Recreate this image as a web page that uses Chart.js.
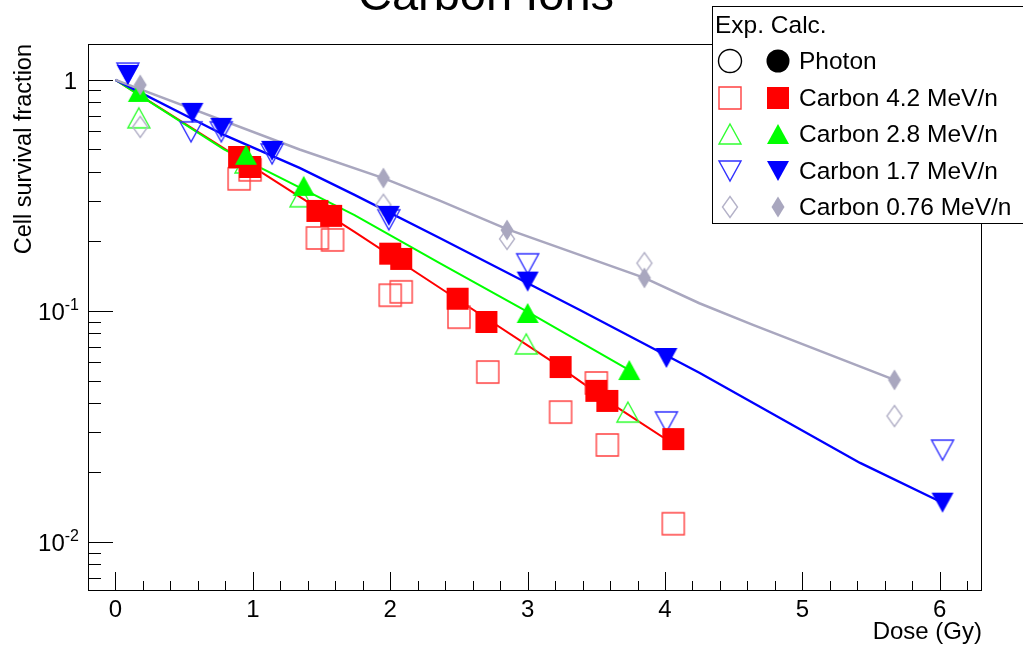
<!DOCTYPE html>
<html>
<head>
<meta charset="utf-8">
<title>Carbon Ions</title>
<script src="https://cdn.jsdelivr.net/npm/chart.js@4.4.1/dist/chart.umd.min.js"></script>
<style>
  html, body { margin: 0; padding: 0; background: #fff; }
  #chart { display: block; }
</style>
</head>
<body>
<canvas id="chart" width="1023" height="648"></canvas>
<script>
// axis ranges and tick labels
const doseRange = [-0.2, 6.3];
const survRange = [0.0062, 1.43];
const doseTicks = [0, 1, 2, 3, 4, 5, 6];
const doseTickLabels = ['0', '1', '2', '3', '4', '5', '6'];
const survTicks = [1, 0.1, 0.01];
const survTickBase = ['1', '10', '10'];
const survTickExp = ['', '-1', '-2'];

const legendNames = ['Photon', 'Carbon 4.2 MeV/n', 'Carbon 2.8 MeV/n', 'Carbon 1.7 MeV/n', 'Carbon 0.76 MeV/n'];

// Carbon 4.2 MeV/n
const c42ExpDose = [0.90, 0.98, 1.47, 1.58, 2.00, 2.08, 2.50, 2.71, 3.24, 3.50, 3.58, 4.06];
const c42ExpSurv = [0.373, 0.408, 0.207, 0.203, 0.117, 0.121, 0.094, 0.0544, 0.0365, 0.0488, 0.0263, 0.0120];
const c42CalcDose = [0.90, 0.98, 1.47, 1.57, 2.00, 2.08, 2.49, 2.70, 3.24, 3.50, 3.58, 4.06];
const c42CalcSurv = [0.464, 0.420, 0.271, 0.258, 0.177, 0.168, 0.113, 0.0896, 0.0572, 0.0451, 0.0408, 0.0279];
const c42LineDose = [0, 0.83, 1.74, 2.36, 3.16, 3.66, 3.98, 4.06];
const c42LineSurv = [1, 0.488, 0.22, 0.126, 0.0614, 0.038, 0.0285, 0.0279];

// Carbon 2.8 MeV/n
const c28ExpDose = [0.17, 0.95, 1.35, 2.99, 3.73];
const c28ExpSurv = [0.685, 0.437, 0.312, 0.072, 0.0365];
const c28CalcDose = [0.17, 0.95, 1.37, 3.00, 3.74];
const c28CalcSurv = [0.887, 0.474, 0.348, 0.098, 0.0555];
const c28LineDose = [0, 0.79, 1.74, 2.36, 3.0, 3.74];
const c28LineSurv = [1, 0.50, 0.26, 0.161, 0.099, 0.0555];

// Carbon 1.7 MeV/n
const c17ExpDose = [0.09, 0.55, 0.77, 1.14, 1.99, 3.00, 4.01, 6.02];
const c17ExpSurv = [1.07, 0.596, 0.596, 0.478, 0.248, 0.160, 0.0331, 0.0250];
const c17CalcDose = [0.09, 0.56, 0.77, 1.14, 1.99, 3.00, 4.01, 6.02];
const c17CalcSurv = [1.05, 0.720, 0.620, 0.493, 0.258, 0.134, 0.0626, 0.0148];
const c17LineDose = [0, 0.79, 1.34, 1.74, 2.36, 3.38, 4.25, 5.42, 6.02];
const c17LineSurv = [1, 0.578, 0.416, 0.318, 0.207, 0.101, 0.054, 0.022, 0.0148];

// Carbon 0.76 MeV/n
const c076ExpDose = [0.18, 1.95, 2.85, 3.85, 5.67];
const c076ExpSurv = [0.626, 0.288, 0.205, 0.161, 0.0351];
const c076CalcDose = [0.18, 1.95, 2.85, 3.85, 5.67];
const c076CalcSurv = [0.951, 0.376, 0.224, 0.139, 0.0503];
const c076LineDose = [0, 1.34, 1.95, 2.36, 2.85, 3.85, 4.25, 4.64, 5.67];
const c076LineSurv = [1, 0.50, 0.376, 0.30, 0.226, 0.139, 0.108, 0.087, 0.0503];

const FONT = '"Liberation Sans", Arial, Helvetica, sans-serif';
const RED = '#ff0000', GREEN = '#00ff00', BLUE = '#0000ff', GRAY = '#a9a7bf';

function pts(xs, ys) {
  return xs.map((x, i) => ({ x: x, y: ys[i] }));
}

// ROOT-like marker drawn on a small canvas, used as pointStyle
function makeMarker(shape, color, filled) {
  const c = document.createElement('canvas');
  c.width = 28; c.height = 28;
  const g = c.getContext('2d');
  const m = 14;
  g.beginPath();
  if (shape === 'square') {
    g.rect(m - 11, m - 11, 22, 22);
  } else if (shape === 'circle') {
    g.arc(m, m, 11.5, 0, Math.PI * 2);
  } else if (shape === 'up') {
    g.moveTo(m, m - 10); g.lineTo(m + 11, m + 10); g.lineTo(m - 11, m + 10); g.closePath();
  } else if (shape === 'down') {
    g.moveTo(m - 11, m - 10); g.lineTo(m + 11, m - 10); g.lineTo(m, m + 10); g.closePath();
  } else if (shape === 'diamond') {
    const hw = filled ? 6.5 : 7.5;
    g.moveTo(m, m - 10.5); g.lineTo(m + hw, m); g.lineTo(m, m + 10.5); g.lineTo(m - hw, m); g.closePath();
  }
  if (filled) {
    g.fillStyle = color;
    g.fill();
  } else {
    g.strokeStyle = color;
    g.lineWidth = 1.4;
    g.stroke();
  }
  return c;
}

const mk = {
  photonExp: makeMarker('circle', '#000', false),
  photonCalc: makeMarker('circle', '#000', true),
  c42Exp: makeMarker('square', '#ff4040', false),
  c42Calc: makeMarker('square', RED, true),
  c28Exp: makeMarker('up', '#30ff30', false),
  c28Calc: makeMarker('up', GREEN, true),
  c17Exp: makeMarker('down', '#3030ff', false),
  c17Calc: makeMarker('down', BLUE, true),
  c076Exp: makeMarker('diamond', '#b4b2c8', false),
  c076Calc: makeMarker('diamond', GRAY, true)
};

function lineSet(xs, ys, color, width) {
  return {
    data: pts(xs, ys), showLine: true, borderColor: color, borderWidth: width,
    pointRadius: 0, tension: 0, order: 3
  };
}
function markSet(xs, ys, style, order) {
  return {
    data: pts(xs, ys), showLine: false, pointStyle: style, pointRadius: 10,
    borderWidth: 0, order: order
  };
}

// frame, inside ticks, tick labels, titles and legend in ROOT style
const rootStyle = {
  id: 'rootStyle',
  beforeDatasetsDraw(chart) {
    const ctx = chart.ctx;
    const a = chart.chartArea;
    const xs = chart.scales.x, ys = chart.scales.y;
    ctx.save();
    ctx.strokeStyle = '#000';
    ctx.lineWidth = 1;
    ctx.strokeRect(a.left + 0.5, a.top + 0.5, a.right - a.left, a.bottom - a.top);

    ctx.beginPath();
    // x ticks: majors every 1, minors every 0.2
    for (let i = -1; i <= 31; i++) {
      const v = i * 0.2;
      if (v < doseRange[0] - 1e-9 || v > doseRange[1]) continue;
      const px = Math.round(xs.getPixelForValue(v)) + 0.5;
      const len = (i % 5 === 0) ? 18 : 9;
      ctx.moveTo(px, a.bottom);
      ctx.lineTo(px, a.bottom - len);
    }
    // y ticks: majors at decades, minors 2..9
    [0.001, 0.01, 0.1, 1].forEach(d => {
      for (let k = 1; k <= 9; k++) {
        const v = k * d;
        if (v < survRange[0] || v > survRange[1]) continue;
        const py = Math.round(ys.getPixelForValue(v)) + 0.5;
        const len = (k === 1) ? 25 : 13;
        ctx.moveTo(a.left, py);
        ctx.lineTo(a.left + len, py);
      }
    });
    ctx.stroke();
    ctx.restore();
  },
  afterDraw(chart) {
    const ctx = chart.ctx;
    const a = chart.chartArea;
    const xs = chart.scales.x, ys = chart.scales.y;
    ctx.save();
    ctx.fillStyle = '#000';

    // x tick labels
    ctx.font = '24px ' + FONT;
    ctx.textAlign = 'center';
    ctx.textBaseline = 'alphabetic';
    doseTicks.forEach((v, i) => {
      ctx.fillText(doseTickLabels[i], xs.getPixelForValue(v), a.bottom + 27);
    });

    // y tick labels with exponent
    survTicks.forEach((v, i) => {
      const py = ys.getPixelForValue(v);
      const right = 79;
      ctx.textAlign = 'right';
      if (survTickExp[i]) {
        ctx.font = '16px ' + FONT;
        const ew = ctx.measureText(survTickExp[i]).width;
        ctx.fillText(survTickExp[i], right, py - 1);
        ctx.font = '24px ' + FONT;
        ctx.fillText(survTickBase[i], right - ew, py + 9);
      } else {
        ctx.font = '24px ' + FONT;
        ctx.fillText(survTickBase[i], right - 2, py + 9);
      }
    });

    // axis titles
    ctx.font = '24px ' + FONT;
    ctx.textAlign = 'right';
    ctx.fillText('Dose (Gy)', a.right + 1, 639);

    ctx.save();
    ctx.translate(31, a.top);
    ctx.rotate(-Math.PI / 2);
    ctx.font = '23.5px ' + FONT;
    ctx.textAlign = 'right';
    ctx.fillText('Cell survival fraction', 0, 0);
    ctx.restore();

    // title, mostly outside the top of the window
    ctx.font = '47px ' + FONT;
    ctx.textAlign = 'center';
    ctx.fillText('Carbon Ions', 486, 10);

    // legend box
    const lx = 712, ly = 6, lw = 330, lh = 217;
    ctx.fillStyle = '#fff';
    ctx.fillRect(lx, ly, lw, lh);
    ctx.strokeStyle = '#000';
    ctx.lineWidth = 1;
    ctx.strokeRect(lx + 0.5, ly + 0.5, lw, lh);

    ctx.fillStyle = '#000';
    ctx.textAlign = 'left';
    ctx.font = '24.5px ' + FONT;
    ctx.fillText('Exp. Calc.', 715, 33);

    const rows = [
      [mk.photonExp, mk.photonCalc],
      [mk.c42Exp, mk.c42Calc],
      [mk.c28Exp, mk.c28Calc],
      [mk.c17Exp, mk.c17Calc],
      [mk.c076Exp, mk.c076Calc]
    ];
    rows.forEach((r, i) => {
      const cy = 61 + i * 36.5;
      ctx.drawImage(r[0], 730 - 14, Math.round(cy) - 14);
      ctx.drawImage(r[1], 778 - 14, Math.round(cy) - 14);
      ctx.fillText(legendNames[i], 799, cy + 8);
    });
    ctx.restore();
  }
};

const ctx = document.getElementById('chart').getContext('2d');
new Chart(ctx, {
  type: 'scatter',
  data: {
    datasets: [
      lineSet(c076LineDose, c076LineSurv, GRAY, 2.5),
      lineSet(c17LineDose, c17LineSurv, BLUE, 2.3),
      lineSet(c28LineDose, c28LineSurv, GREEN, 2),
      lineSet(c42LineDose, c42LineSurv, RED, 2),
      markSet(c076ExpDose, c076ExpSurv, mk.c076Exp, 2),
      markSet(c17ExpDose, c17ExpSurv, mk.c17Exp, 2),
      markSet(c28ExpDose, c28ExpSurv, mk.c28Exp, 2),
      markSet(c42ExpDose, c42ExpSurv, mk.c42Exp, 2),
      markSet(c076CalcDose, c076CalcSurv, mk.c076Calc, 1),
      markSet(c17CalcDose, c17CalcSurv, mk.c17Calc, 1),
      markSet(c28CalcDose, c28CalcSurv, mk.c28Calc, 1),
      markSet(c42CalcDose, c42CalcSurv, mk.c42Calc, 1)
    ]
  },
  options: {
    responsive: false,
    animation: false,
    devicePixelRatio: 1,
    layout: { padding: { left: 88, top: 44, right: 42, bottom: 58 } },
    plugins: {
      legend: { display: false },
      tooltip: { enabled: false }
    },
    scales: {
      x: { type: 'linear', min: doseRange[0], max: doseRange[1], display: false },
      y: { type: 'logarithmic', min: survRange[0], max: survRange[1], display: false }
    }
  },
  plugins: [rootStyle]
});
</script>
</body>
</html>
